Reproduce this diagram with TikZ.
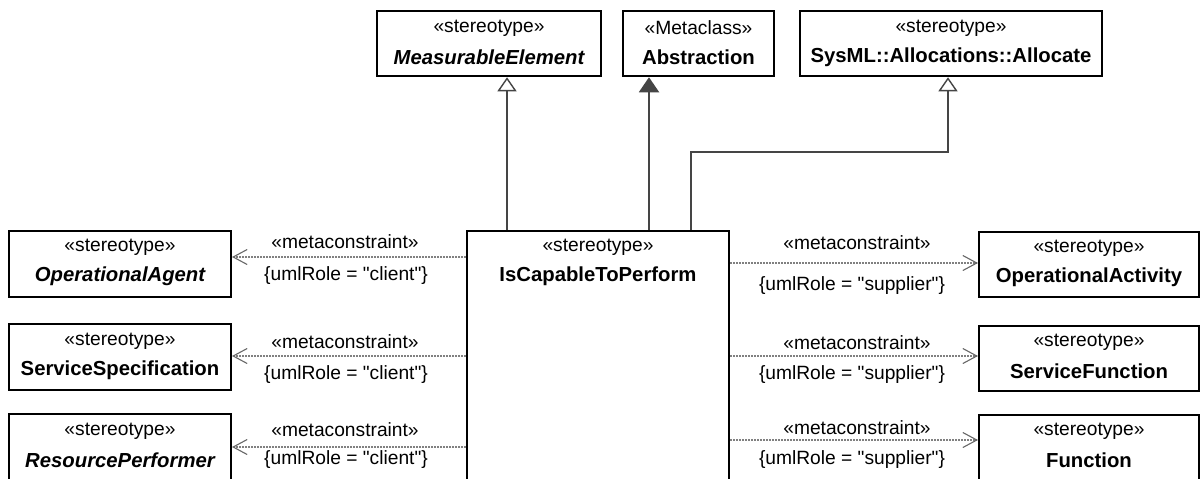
\documentclass[tikz,border=0pt]{standalone}
\usepackage{fontspec}
\defaultfontfeatures{}
\defaultfontfeatures[\rmfamily]{}
\setmainfont{Liberation Sans}[Ligatures=ResetAll]
\usetikzlibrary{arrows.meta,calc}
\newcommand{\nm}[1]{{\fontsize{10.15pt}{11pt}\selectfont\bfseries #1}}
\newcommand{\nmi}[1]{{\fontsize{10.15pt}{11pt}\selectfont\bfseries\itshape #1}}
\begin{document}
\begin{tikzpicture}[x=0.5pt,y=-0.5pt,
  font=\fontsize{9.6pt}{11pt}\selectfont,
  box/.style={draw=black,line width=1pt,fill=white,inner sep=0pt,minimum height=32.75pt},
  txt/.style={inner sep=0pt,anchor=center},
  gen/.style={draw=black!73,line width=1pt,-{Triangle[open,length=7pt,width=9.5pt,line width=0.7pt]}},
  genf/.style={draw=black!73,line width=1pt,-{Triangle[length=7.5pt,width=10pt]},fill=black!73},
  dep/.style={draw=black!50,line width=0.8pt,dash pattern=on 1pt off 0.5pt,
    -{Straight Barb[length=7pt,width=7.5pt,line width=0.55pt,black!60]}},
  lbl/.style={inner sep=0pt,anchor=center}]
\useasboundingbox (0,0) rectangle (1200,478);
\clip (0,0) rectangle (1200,478);

% top boxes
\node[box,minimum width=112pt] (me) at (489,43.5) {};
\node[txt] at (489,28) {«stereotype»};
\node[txt] at (489,57) {\nmi{MeasurableElement}};

\node[box,minimum width=75.5pt] (abs) at (698.5,43.5) {};
\node[txt] at (698.5,28) {«Metaclass»};
\node[txt] at (698.5,57) {\nm{Abstraction}};

\node[box,minimum width=151pt] (alloc) at (951,43.5) {};
\node[txt] at (951,28) {«stereotype»};
\node[txt] at (951,57) {\nm{SysML::Allocations::Allocate}};

% middle box
\node[box,minimum width=131pt,minimum height=140pt] (mid) at (598,371) {};
\node[txt] at (598,247) {«stereotype»};
\node[txt] at (598,276) {\nm{IsCapableToPerform}};

% left boxes
\node[box,minimum width=111pt,minimum height=33pt] (oa) at (120,264) {};
\node[txt] at (120,247) {«stereotype»};
\node[txt] at (120,276) {\nmi{OperationalAgent}};

\node[box,minimum width=111pt,minimum height=33pt] (ss) at (120,357) {};
\node[txt] at (120,341) {«stereotype»};
\node[txt] at (120,370) {\nm{ServiceSpecification}};

\node[box,minimum width=111pt,minimum height=33pt] (rp) at (120,447) {};
\node[txt] at (120,431) {«stereotype»};
\node[txt] at (120,460) {\nmi{ResourcePerformer}};

% right boxes
\node[box,minimum width=110pt] (oact) at (1089,264.5) {};
\node[txt] at (1089,248) {«stereotype»};
\node[txt] at (1089,277) {\nm{OperationalActivity}};

\node[box,minimum width=110pt] (sf) at (1089,358.5) {};
\node[txt] at (1089,342) {«stereotype»};
\node[txt] at (1089,371) {\nm{ServiceFunction}};

\node[box,minimum width=110pt] (fn) at (1089,447.5) {};
\node[txt] at (1089,431) {«stereotype»};
\node[txt] at (1089,460) {\nm{Function}};

% generalizations
\coordinate (g1) at ($(mid.north west)+(41,0)$);
\coordinate (g2) at ($(mid.north west)+(183,0)$);
\coordinate (g3) at ($(mid.north west)+(225,0)$);
\coordinate (g3b) at ($(g3)+(0,-78)$);
\coordinate (a3) at ($(alloc.south)+(-3,0)$);
\draw[gen] (g1) -- (g1 |- me.south);
\draw[genf] (g2) -- (g2 |- abs.south);
\draw[gen] (g3) -- (g3b) -- (g3b -| a3) -- (a3);

% dependencies left
\coordinate (l1) at ($(mid.north west)+(0,27)$);
\coordinate (l2) at ($(mid.north west)+(0,126)$);
\coordinate (l3) at ($(mid.north west)+(0,217)$);
\draw[dep] (l1) -- (oa.east |- l1);
\draw[dep] (l2) -- (ss.east |- l2);
\draw[dep] (l3) -- (rp.east |- l3);
% dependencies right
\coordinate (r1) at ($(mid.north east)+(0,33)$);
\coordinate (r2) at ($(mid.north east)+(0,126)$);
\coordinate (r3) at ($(mid.north east)+(0,210)$);
\draw[dep] (r1) -- (oact.west |- r1);
\draw[dep] (r2) -- (sf.west |- r2);
\draw[dep] (r3) -- (fn.west |- r3);

% labels
\node[lbl] at (345,242) {«metaconstraint»};
\node[lbl] at (346,276) {\{umlRole = "client"\}};
\node[lbl] at (345,342) {«metaconstraint»};
\node[lbl] at (346,375) {\{umlRole = "client"\}};
\node[lbl] at (345,430) {«metaconstraint»};
\node[lbl] at (346,460) {\{umlRole = "client"\}};

\node[lbl] at (857,243) {«metaconstraint»};
\node[lbl] at (852,286) {\{umlRole = "supplier"\}};
\node[lbl] at (857,343) {«metaconstraint»};
\node[lbl] at (852,375) {\{umlRole = "supplier"\}};
\node[lbl] at (857,428) {«metaconstraint»};
\node[lbl] at (852,460) {\{umlRole = "supplier"\}};
\end{tikzpicture}
\end{document}
